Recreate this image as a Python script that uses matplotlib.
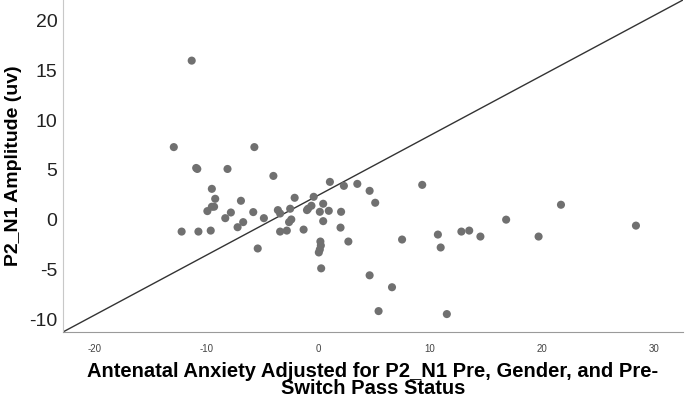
import numpy as np
import matplotlib.pyplot as plt

plt.rcParams['font.family'] = ['Liberation Sans', 'DejaVu Sans']
plt.rcParams['axes.unicode_minus'] = False

# residualised anxiety (x) vs P2_N1 amplitude (y)
anx = [-11.3, -12.9, -5.7, -10.9, -10.8, -8.1, -4.0, -9.5, -9.2, -9.5, -9.3,
       -9.9, -7.8, -6.9, -8.3, -5.8, -4.85, -6.7, -7.2, -12.2, -10.7, -9.6,
       -5.4, -3.6, -3.4, -2.5, -2.1, -2.6, -2.4, -3.4, -2.8, -1.3, -0.4,
       -1.0, -0.9, -0.6, 0.45, 0.15, 0.95, 0.45, 1.05, 2.3, 3.5, 4.6, 5.1,
       2.05, 2.0, 2.7, 0.2, 0.24, 0.15, 0.06, 0.27, 4.6, 6.6, 5.4,
       9.3, 7.5, 10.7, 10.95, 12.8, 13.5, 14.5, 16.8, 19.7, 21.7, 28.4, 11.5]
amp = [16.0, 7.3, 7.3, 5.2, 5.1, 5.1, 4.4, 3.1, 2.1, 1.3, 1.3,
       0.86, 0.72, 1.9, 0.15, 0.76, 0.15, -0.25, -0.76, -1.2, -1.2, -1.1,
       -2.9, 0.96, 0.62, 1.1, 2.2, -0.25, 0.02, -1.2, -1.1, -1.0, 2.3,
       0.96, 1.1, 1.4, 1.6, 0.79, 0.89, -0.15, 3.8, 3.4, 3.6, 2.9, 1.7,
       0.79, -0.8, -2.2, -2.2, -2.6, -3.0, -3.3, -4.9, -5.6, -6.8, -9.2,
       3.5, -2.0, -1.5, -2.8, -1.2, -1.1, -1.7, 0.0, -1.7, 1.5, -0.6, -9.5]

# reference line endpoints
ref_x = [-22.8, 32.6]
ref_y = [-11.3, 22.1]

fig = plt.figure(figsize=(6.85, 3.99), dpi=100)
ax = fig.add_axes([0.092, 0.168, 0.905, 0.832])

ax.plot(ref_x, ref_y, color='#333333', lw=1.0, zorder=2)
ax.scatter(anx, amp, s=34, color='#707070', edgecolors='none', zorder=3)

ax.set_xlim(-22.8, 32.6)
ax.set_ylim(-11.3, 22.1)
ax.set_xticks([-20, -10, 0, 10, 20, 30])
ax.set_yticks([-10, -5, 0, 5, 10, 15, 20])

for s in ['top', 'right']:
    ax.spines[s].set_visible(False)
ax.spines['left'].set_color('#c8c8c8')
ax.spines['bottom'].set_color('#9a9a9a')

ax.tick_params(axis='both', length=0)
ax.tick_params(axis='x', labelsize=7, colors='#444444', pad=9)
ax.tick_params(axis='y', labelsize=14, colors='#222222', pad=4)

ax.set_xlabel('Antenatal Anxiety Adjusted for P2_N1 Pre, Gender, and Pre-\nSwitch Pass Status',
              fontsize=14.5, fontweight='bold', linespacing=0.85)
ax.xaxis.set_label_coords(0.5, -0.09)
ax.set_ylabel('P2_N1 Amplitude (uv)', fontsize=14, fontweight='bold')
ax.yaxis.set_label_coords(-0.066, 0.5)

fig.savefig('out.png', dpi=100)
